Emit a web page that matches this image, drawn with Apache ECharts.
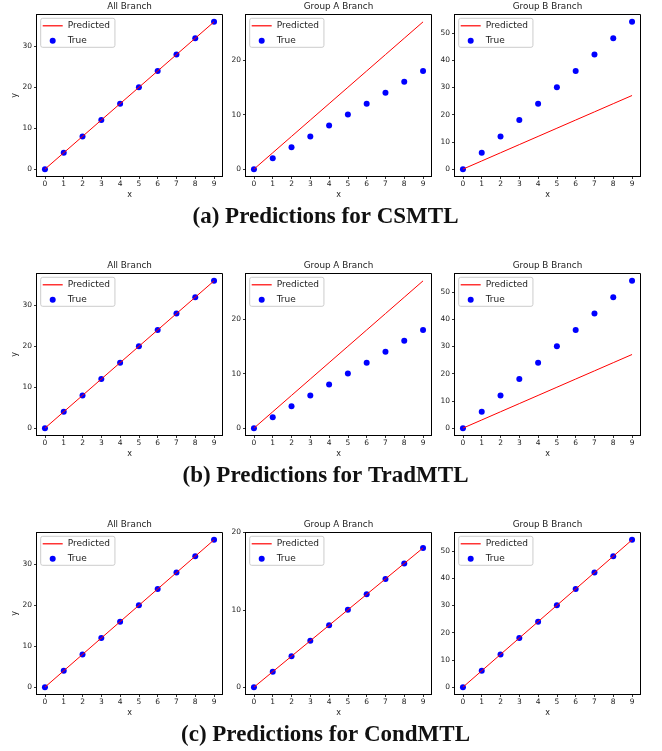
<!DOCTYPE html>
<html>
<head>
<meta charset="utf-8">
<script src="https://cdn.jsdelivr.net/npm/echarts@6/dist/echarts.min.js"></script>
<style>
  html, body { margin: 0; padding: 0; background: #fff; }
  #chart { width: 662px; height: 751px; }
</style>
</head>
<body>
<div id="chart"></div>
<script>
// data
const xValues = [0, 1, 2, 3, 4, 5, 6, 7, 8, 9]
const allTrue = [0, 4, 8, 12, 16, 20, 24, 28, 32, 36]
const allPred = [0, 4, 8, 12, 16, 20, 24, 28, 32, 36]
const groupATrue = [0, 2, 4, 6, 8, 10, 12, 14, 16, 18]
const groupBTrue = [0, 6, 12, 18, 24, 30, 36, 42, 48, 54]
const groupAPredCSMTL = [0, 3, 6, 9, 12, 15, 18, 21, 24, 27]
const groupBPredCSMTL = [0, 3, 6, 9, 12, 15, 18, 21, 24, 27]
const groupAPredTrad = [0, 3, 6, 9, 12, 15, 18, 21, 24, 27]
const groupBPredTrad = [0, 3, 6, 9, 12, 15, 18, 21, 24, 27]
const groupAPredCond = [0, 2, 4, 6, 8, 10, 12, 14, 16, 18]
const groupBPredCond = [0, 6, 12, 18, 24, 30, 36, 42, 48, 54]

const xTicks = [0, 1, 2, 3, 4, 5, 6, 7, 8, 9]
const allTicks = [0, 10, 20, 30]
const groupATicks = [0, 10, 20]
const groupBTicks = [0, 10, 20, 30, 40, 50]

const subTitles = ['All Branch', 'Group A Branch', 'Group B Branch']
const captions = ['(a) Predictions for CSMTL', '(b) Predictions for TradMTL', '(c) Predictions for CondMTL']

// one entry per row: [true, predicted, yMin, yMax, ticks] per column
const rows = [
  [
    [allTrue, allPred, -1.8, 37.8, allTicks],
    [groupATrue, groupAPredCSMTL, -1.35, 28.35, groupATicks],
    [groupBTrue, groupBPredCSMTL, -2.7, 56.7, groupBTicks]
  ],
  [
    [allTrue, allPred, -1.8, 37.8, allTicks],
    [groupATrue, groupAPredTrad, -1.35, 28.35, groupATicks],
    [groupBTrue, groupBPredTrad, -2.7, 56.7, groupBTicks]
  ],
  [
    [allTrue, allPred, -1.8, 37.8, allTicks],
    [groupATrue, groupAPredCond, -0.95, 20, groupATicks],
    [groupBTrue, groupBPredCond, -2.7, 56.7, groupBTicks]
  ]
]

const colLeft = [36.5, 245.5, 454.5]
const rowTop = [14.5, 273.5, 532.5]
const gridW = 186
const gridH = 162

const grid = [], xAxis = [], yAxis = [], series = [], legend = [], graphic = []
const tickFont = { fontSize: 7.5, color: '#222', fontFamily: 'DejaVu Sans' }

rows.forEach((row, r) => {
  row.forEach((p, c) => {
    const idx = r * 3 + c
    grid.push({
      left: colLeft[c], top: rowTop[r], width: gridW, height: gridH,
      show: true, backgroundColor: '#fff', borderColor: '#000', borderWidth: 1,
      containLabel: false, outerBoundsMode: 'none'
    })
    xAxis.push({
      type: 'value', gridIndex: idx, min: -0.45, max: 9.45,
      name: 'x', nameLocation: 'middle', nameGap: 14,
      nameTextStyle: { fontSize: 8, color: '#222', fontFamily: 'DejaVu Sans' },
      axisLine: { show: true, onZero: false, lineStyle: { color: '#000', width: 1 } },
      axisTick: { show: true, length: 2.5, customValues: xTicks, lineStyle: { color: '#000', width: 0.8 } },
      axisLabel: { ...tickFont, margin: 4, customValues: xTicks },
      splitLine: { show: false }
    })
    yAxis.push({
      type: 'value', gridIndex: idx, min: p[2], max: p[3],
      name: c === 0 ? 'y' : '', nameLocation: 'middle', nameGap: 18,
      nameTextStyle: { fontSize: 8, color: '#222', fontFamily: 'DejaVu Sans' },
      axisLine: { show: true, onZero: false, lineStyle: { color: '#000', width: 1 } },
      axisTick: { show: true, length: 2.5, customValues: p[4], lineStyle: { color: '#000', width: 0.8 } },
      axisLabel: { ...tickFont, margin: 4.5, customValues: p[4] },
      splitLine: { show: false }
    })
    series.push({
      name: 'True', type: 'scatter', xAxisIndex: idx, yAxisIndex: idx,
      symbolSize: 6, itemStyle: { color: '#0000ff', opacity: 1 },
      data: xValues.map((x, i) => [x, p[0][i]]), z: 2
    })
    series.push({
      name: 'Predicted', type: 'line', xAxisIndex: idx, yAxisIndex: idx,
      symbol: 'none', showSymbol: false,
      lineStyle: { color: '#ff0000', width: 1 }, itemStyle: { color: '#ff0000' },
      data: xValues.map((x, i) => [x, p[1][i]]), z: 3
    })
    legend.push({
      orient: 'vertical', left: colLeft[c] + 4.2, top: rowTop[r] + 3.8,
      data: [
        { name: 'Predicted', icon: 'path://M0,0h20v1.2h-20z', itemStyle: { color: '#ff0000' } },
        { name: 'True', icon: 'circle', itemStyle: { color: '#0000ff' } }
      ],
      itemWidth: 20, itemHeight: 6, itemGap: 4,
      padding: [2, 5, 1, 2],
      textStyle: { fontSize: 9, lineHeight: 11, color: '#222', fontFamily: 'DejaVu Sans' },
      borderColor: '#cccccc', borderWidth: 1, borderRadius: 2,
      backgroundColor: 'rgba(255,255,255,0.8)', selectedMode: false
    })
    graphic.push({
      type: 'text', x: colLeft[c] + gridW / 2, y: rowTop[r] - 7.5,
      style: { text: subTitles[c], fill: '#222', font: '8.8px "DejaVu Sans"', align: 'center', verticalAlign: 'middle' }
    })
  })
  graphic.push({
    type: 'text', x: 325.5, y: rowTop[r] + 203,
    style: { text: captions[r], fill: '#111', font: 'bold 23px "Liberation Serif"', align: 'center', verticalAlign: 'middle' }
  })
})

const myChart = echarts.init(document.getElementById('chart'), null, { renderer: 'canvas' })
myChart.setOption({
  animation: false,
  backgroundColor: '#fff',
  grid, xAxis, yAxis, series, legend, graphic
})
</script>
</body>
</html>
